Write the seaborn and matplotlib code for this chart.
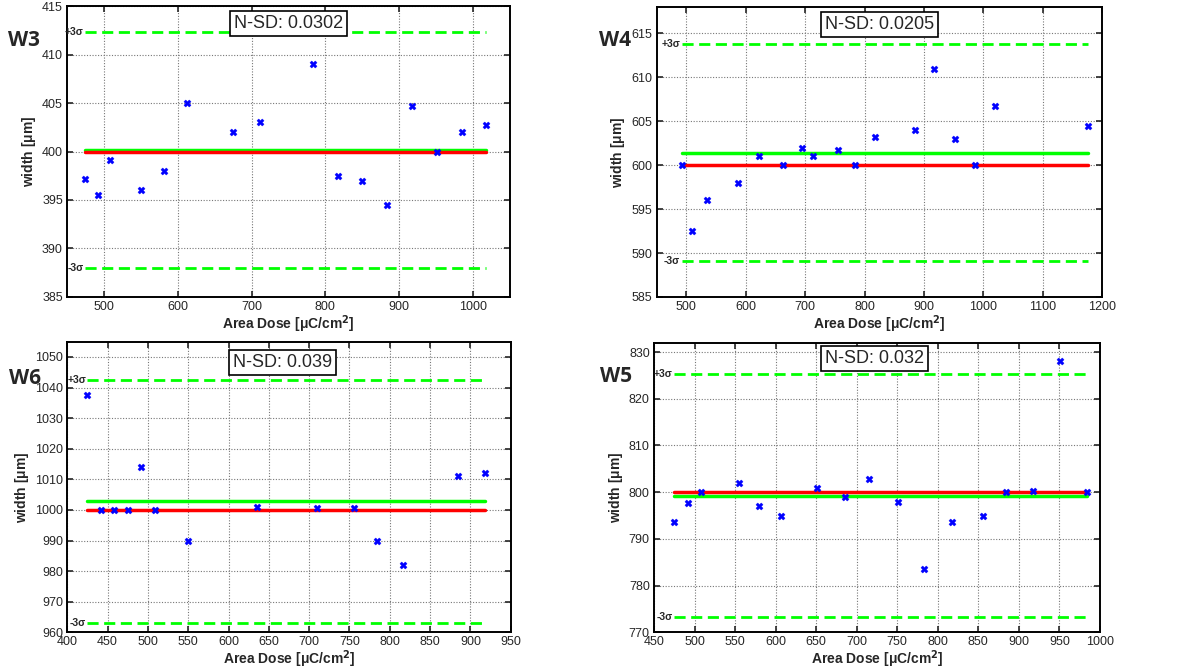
import matplotlib
matplotlib.use("Agg")
import matplotlib.pyplot as plt
import seaborn as sns
import pandas as pd

# ---------------- data ----------------
w3_dose = [474, 491.5, 508, 550, 582, 612, 675, 712, 783, 817, 850, 883, 917, 951, 985, 1018]
w3_width = [397.2, 395.5, 399.1, 396, 398, 405, 402, 403, 409, 397.5, 397, 394.5, 404.7, 400, 402, 402.7]
w3_target, w3_mean, w3_plus, w3_minus = 400, 400.2, 412.3, 388.0

w4_dose = [492, 509, 535, 586, 623, 663, 695, 713, 755, 783, 817, 884, 917.5, 952, 985, 1019, 1176]
w4_width = [600, 592.5, 596, 598, 601, 600, 602, 601, 601.7, 600, 603.2, 604, 611, 603, 600, 606.7, 604.5]
w4_target, w4_mean, w4_plus, w4_minus = 600, 601.4, 613.8, 589.05

w6_dose = [425, 442, 458.5, 475, 492, 509, 550, 635, 710, 756, 784, 817, 884.5, 918.5]
w6_width = [1037.5, 1000, 1000, 1000, 1014, 1000, 990, 1001, 1000.8, 1000.7, 990, 982, 1011, 1012]
w6_target, w6_mean, w6_plus, w6_minus = 1000, 1002.9, 1042.5, 963.0

w5_dose = [475, 492, 508.5, 555, 579, 607, 651, 685.5, 715, 751.5, 783, 817, 855.5, 884, 917.5, 951, 984.5]
w5_width = [793.6, 797.6, 800, 802, 797, 795, 800.9, 798.9, 802.9, 798, 783.6, 793.6, 795, 800, 800.2, 828.1, 800]
w5_target, w5_mean, w5_plus, w5_minus = 800, 799.2, 825.3, 773.2

panel_names = ["W3", "W4", "W6", "W5"]
nsd_labels = ["N-SD: 0.0302", "N-SD: 0.0205", "N-SD: 0.039", "N-SD: 0.032"]
xlims = [(450, 1050), (450, 1200), (400, 950), (450, 1000)]
xticks = [list(range(500, 1001, 100)), list(range(500, 1201, 100)),
          list(range(400, 951, 50)), list(range(450, 1001, 50))]
ylims = [(385, 415), (585, 618), (960, 1055), (770, 832)]
yticks = [list(range(385, 416, 5)), list(range(585, 616, 5)),
          list(range(960, 1051, 10)), list(range(770, 831, 10))]

# ---------------- style ----------------
sns.set_style("ticks")
plt.rcParams["font.family"] = ["Liberation Sans", "DejaVu Sans"]
plt.rcParams["axes.linewidth"] = 1.4
plt.rcParams["xtick.direction"] = "in"
plt.rcParams["ytick.direction"] = "in"

fig = plt.figure(figsize=(11.91, 6.68), dpi=100)
positions = [
    [0.0563, 0.5554, 0.3719, 0.4356],
    [0.5514, 0.5554, 0.3741, 0.4341],
    [0.0565, 0.0534, 0.3723, 0.4351],
    [0.5491, 0.0534, 0.3745, 0.4336],
]
name_pos = [(24, 40), (615, 41), (25, 378), (616, 376)]
nsd_pos = [(0.50, 0.94), (0.50, 0.94), (0.486, 0.928), (0.494, 0.944)]

panels = [
    (w3_dose, w3_width, w3_target, w3_mean, w3_plus, w3_minus),
    (w4_dose, w4_width, w4_target, w4_mean, w4_plus, w4_minus),
    (w6_dose, w6_width, w6_target, w6_mean, w6_plus, w6_minus),
    (w5_dose, w5_width, w5_target, w5_mean, w5_plus, w5_minus),
]

GREEN = "#00ff00"
RED = "#ff0000"
BLUE = "#0000ff"

for i, (dose, width, target, mean, plus, minus) in enumerate(panels):
    ax = fig.add_axes(positions[i])
    df = pd.DataFrame({"dose": dose, "width": width})
    x0, x1 = min(dose), max(dose)

    lines = pd.DataFrame({
        "dose": [x0, x1] * 4,
        "width": [plus, plus, minus, minus, mean, mean, target, target],
        "kind": ["plus"] * 2 + ["minus"] * 2 + ["mean"] * 2 + ["target"] * 2,
    })
    for kind, color, ls, lw in [("plus", GREEN, (0, (4, 2)), 2.0),
                                ("minus", GREEN, (0, (4, 2)), 2.0),
                                ("mean", GREEN, "-", 2.5),
                                ("target", RED, "-", 2.5)]:
        sub = lines[lines["kind"] == kind]
        sns.lineplot(data=sub, x="dose", y="width", color=color, linestyle=ls,
                     linewidth=lw, ax=ax, legend=False, zorder=3)

    sns.scatterplot(data=df, x="dose", y="width", marker="X", s=26, color=BLUE,
                    edgecolor=BLUE, linewidth=0.3, ax=ax, zorder=5)

    ax.set_xlim(*xlims[i])
    ax.set_ylim(*ylims[i])
    ax.set_xticks(xticks[i])
    ax.set_yticks(yticks[i])
    ax.tick_params(axis="both", which="major", labelsize=9, length=4, width=1.2,
                   top=True, right=True, pad=3)
    ax.grid(True, linestyle=(0, (1, 1.5)), color="#777777", linewidth=0.8)
    ax.set_axisbelow(True)
    for sp in ax.spines.values():
        sp.set_visible(True)
        sp.set_color("black")
    ax.set_xlabel("Area Dose [$\\mathregular{\\mu}$C/cm$^{\\mathbf{2}}$]", fontsize=10,
                  fontweight="bold", labelpad=0)
    ax.set_ylabel("width [$\\mathregular{\\mu}$m]", fontsize=10, fontweight="bold",
                  labelpad=3)

    ax.text(x0 - (xlims[i][1] - xlims[i][0]) * 0.003, plus, "+3σ", ha="right",
            va="center", fontsize=7.5, fontweight="bold", zorder=6)
    ax.text(x0 - (xlims[i][1] - xlims[i][0]) * 0.003, minus, "-3σ", ha="right",
            va="center", fontsize=7.5, fontweight="bold", zorder=6)

    ax.text(nsd_pos[i][0], nsd_pos[i][1], nsd_labels[i], transform=ax.transAxes,
            ha="center", va="center", fontsize=13, zorder=7,
            bbox=dict(boxstyle="square,pad=0.22", facecolor="white",
                      edgecolor="black", linewidth=1.2))

    fig.text(name_pos[i][0] / 1191, 1 - name_pos[i][1] / 668, panel_names[i],
             ha="center", va="center", fontsize=15, fontweight="bold",
             family=["Open Sans", "DejaVu Sans"])

fig.savefig("out.png", dpi=100)
